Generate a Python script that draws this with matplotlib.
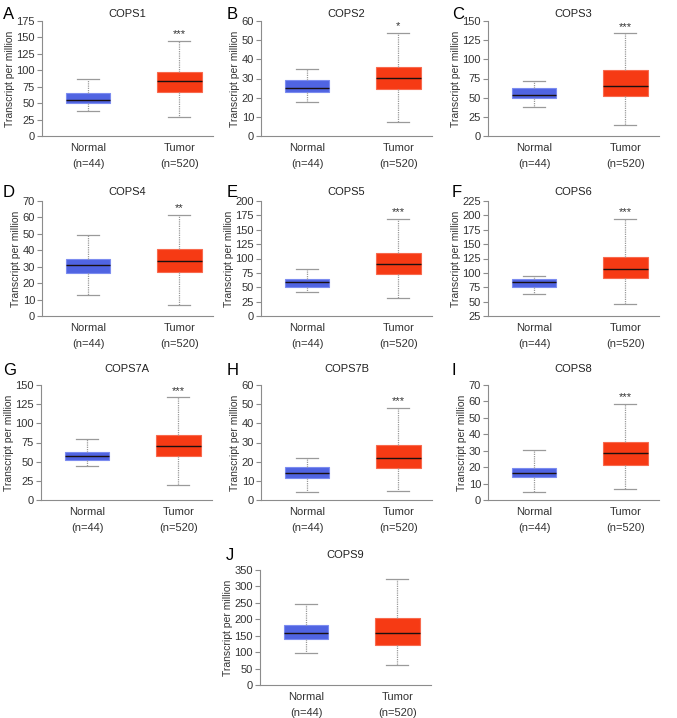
import numpy as np
import matplotlib.pyplot as plt

plt.rcParams['font.family'] = ['Liberation Sans', 'DejaVu Sans']

genes = ["COPS1", "COPS2", "COPS3", "COPS4", "COPS5",
         "COPS6", "COPS7A", "COPS7B", "COPS8", "COPS9"]
letters = ["A", "B", "C", "D", "E", "F", "G", "H", "I", "J"]
groups = ["Normal\n(n=44)", "Tumor\n(n=520)"]

# whislo, q1, median, q3, whishi
normal_stats = [
    [37.5, 50.5, 55.0, 66.0, 86.0],
    [18.0, 23.0, 25.3, 29.0, 35.0],
    [38.0, 50.0, 54.0, 62.0, 72.0],
    [12.5, 26.0, 31.0, 34.4, 49.6],
    [41.6, 51.0, 60.0, 65.0, 81.0],
    [64.0, 76.0, 83.4, 88.6, 95.0],
    [44.0, 52.3, 57.0, 62.7, 79.0],
    [4.2, 11.4, 14.2, 17.0, 22.0],
    [4.9, 13.8, 16.4, 19.4, 30.7],
    [96.0, 140.0, 158.0, 183.0, 246.0],
]
tumor_stats = [
    [29.0, 67.0, 83.0, 97.0, 145.0],
    [7.1, 24.6, 30.2, 36.2, 54.0],
    [15.0, 52.5, 64.6, 86.0, 134.0],
    [7.0, 27.0, 33.2, 40.5, 61.5],
    [30.6, 73.4, 89.6, 110.0, 169.0],
    [46.4, 90.3, 107.0, 127.9, 194.0],
    [19.5, 57.0, 70.0, 84.7, 134.0],
    [4.9, 16.6, 21.8, 28.8, 48.2],
    [6.9, 21.4, 28.5, 35.6, 58.7],
    [60.0, 123.0, 158.0, 203.0, 322.0],
]
y_min = [0, 0, 0, 0, 0, 25, 0, 0, 0, 0]
y_max = [175, 60, 150, 70, 200, 225, 150, 60, 70, 350]
y_step = [25, 10, 25, 10, 25, 25, 25, 10, 10, 50]
stars = ["***", "*", "***", "**", "***", "***", "***", "***", "***", ""]

W, H = 677, 718
fig = plt.figure(figsize=(W / 100, H / 100), dpi=100)

# panel layout in pixels
lefts = [42, 261, 488, 42, 261, 488, 41, 261, 488, 260]
tops = [21, 21, 21, 201, 201, 201, 385, 385, 385, 570]
letter_xy = [(3, 7), (227, 7), (452, 7), (3, 185), (227, 185), (452, 185),
             (3, 363), (227, 363), (452, 363), (226, 548)]
title_pad = [3, 3, 3, 4, 4, 4, 9, 9, 9, 9]
aw, ah = 171, 115

grey = '#8c8c8c'
for i, gene in enumerate(genes):
    ax = fig.add_axes([lefts[i] / W, 1 - (tops[i] + ah) / H, aw / W, ah / H])
    stats = []
    for s in (normal_stats[i], tumor_stats[i]):
        stats.append(dict(whislo=s[0], q1=s[1], med=s[2], q3=s[3], whishi=s[4]))
    bp = ax.bxp(stats, positions=[1, 2], widths=0.49, patch_artist=True,
                showfliers=False, capwidths=0.24,
                whiskerprops=dict(color='#9a9a9a', linestyle=(0, (1, 0.8)), linewidth=0.9),
                capprops=dict(color='#9a9a9a', linewidth=0.9),
                medianprops=dict(color='#1a1010', linewidth=1.0))
    bp['boxes'][0].set_facecolor('#5064E2')
    bp['boxes'][0].set_edgecolor('#7c8cf0')
    bp['boxes'][1].set_facecolor('#F63A14')
    bp['boxes'][1].set_edgecolor('#f86a4e')
    for b in bp['boxes']:
        b.set_linewidth(0.8)

    if stars[i]:
        ax.annotate(stars[i], (2, tumor_stats[i][4]), xytext=(0, 1),
                    textcoords='offset points', ha='center', va='bottom',
                    fontsize=8, color='#333333')

    ax.set_xlim(0.495, 2.37)
    ax.set_ylim(y_min[i], y_max[i])
    ax.set_yticks(np.arange(y_min[i], y_max[i] + 1, y_step[i]))
    ax.set_xticks([1, 2])
    ax.set_xticklabels(groups, linespacing=1.75)
    ax.tick_params(axis='x', length=0, pad=5, labelsize=8, labelcolor='#333333')
    ax.tick_params(axis='y', length=3.5, width=0.8, color=grey, pad=1.5,
                   labelsize=8, labelcolor='#333333')
    for side in ['top', 'right']:
        ax.spines[side].set_visible(False)
    for side in ['left', 'bottom']:
        ax.spines[side].set_color(grey)
        ax.spines[side].set_linewidth(0.8)
    ax.set_ylabel('Transcript per million', fontsize=7.5, color='#333333', labelpad=1)
    ax.set_title(gene, fontsize=8, color='#222222', pad=title_pad[i])

    lx, ly = letter_xy[i]
    fig.text(lx / W, 1 - ly / H, letters[i], fontsize=12, va='top', ha='left')

fig.savefig('out.png', dpi=100, facecolor='white')
